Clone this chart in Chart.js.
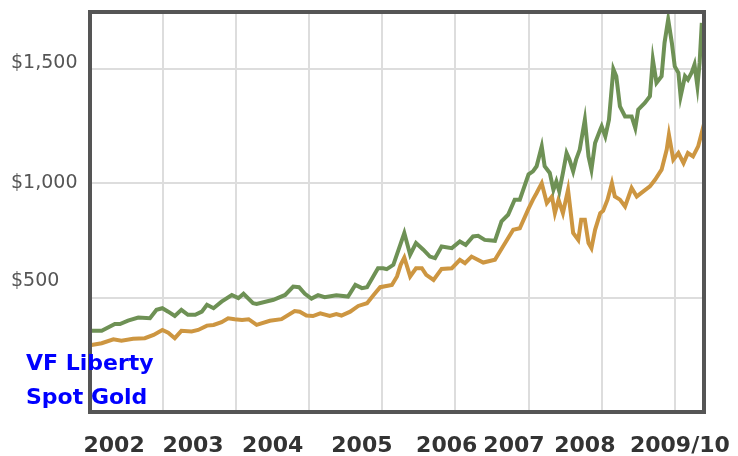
<!DOCTYPE html>
<html>
<head>
<meta charset="utf-8">
<script src="https://cdn.jsdelivr.net/npm/chart.js@4/dist/chart.umd.min.js"></script>
<style>
  body { margin: 0; background: #fff; }
  #wrap { width: 738px; height: 456px; }
</style>
</head>
<body>
<div id="wrap"><canvas id="grafica"></canvas></div>
<script>
const seriesNames = ["VF Liberty", "Spot Gold"];
const yearLabels = ["2002", "2003", "2004", "2005", "2006", "2007", "2008", "2009/10"];
const priceLabels = ["$500", "$1,000", "$1,500"];

const libertyYears = [2002.02, 2002.16, 2002.34, 2002.41, 2002.52, 2002.66, 2002.82, 2002.91, 2002.99,
  2003.07, 2003.16, 2003.25, 2003.34, 2003.44, 2003.53, 2003.60, 2003.69, 2003.80, 2003.94,
  2004.03, 2004.10, 2004.23, 2004.28, 2004.51, 2004.67, 2004.78, 2004.86, 2004.94,
  2005.03, 2005.12, 2005.21, 2005.37, 2005.53, 2005.63, 2005.72, 2005.79, 2005.94,
  2006.01, 2006.06, 2006.15, 2006.30, 2006.38, 2006.46, 2006.56, 2006.65, 2006.72, 2006.81, 2006.95,
  2007.06, 2007.14, 2007.24, 2007.31, 2007.40, 2007.54, 2007.63, 2007.72, 2007.81, 2007.88,
  2008.00, 2008.06, 2008.11, 2008.18, 2008.22, 2008.29, 2008.34, 2008.38, 2008.42, 2008.47,
  2008.52, 2008.56, 2008.61, 2008.65, 2008.70, 2008.77, 2008.82, 2008.86, 2008.91, 2008.98,
  2009.00, 2009.05, 2009.10, 2009.16, 2009.20, 2009.25, 2009.32, 2009.41, 2009.46, 2009.50,
  2009.59, 2009.66, 2009.70, 2009.75, 2009.82, 2009.86, 2009.91, 2009.96,
  2010.00, 2010.05, 2010.08, 2010.14, 2010.18, 2010.23, 2010.27, 2010.31, 2010.34, 2010.37];
const libertyValues = [355, 355, 385, 385, 400, 413, 410, 447, 454,
  439, 420, 447, 425, 425, 439, 469, 454, 483, 512,
  498, 517, 476, 473, 491, 512, 549, 546, 517,
  496, 511, 502, 511, 505, 556, 542, 546, 629,
  629, 625, 644, 783, 688, 739, 710, 680, 673, 724, 717,
  746, 731, 768, 771, 753, 749, 834, 863, 929, 929,
  1040, 1053, 1075, 1162, 1075, 1046, 972, 1009, 965, 1046,
  1133, 1104, 1053, 1104, 1148, 1279, 1118, 1060, 1177, 1235,
  1250, 1206, 1279, 1500, 1469, 1337, 1293, 1293, 1242, 1323,
  1352, 1381, 1542, 1440, 1469, 1615, 1717, 1615,
  1512, 1484, 1381, 1469, 1454, 1484, 1520, 1425, 1527, 1702];

const goldYears = [2002.02, 2002.16, 2002.32, 2002.43, 2002.59, 2002.75, 2002.87, 2002.99,
  2003.07, 2003.16, 2003.25, 2003.39, 2003.48, 2003.60, 2003.69, 2003.80, 2003.89, 2003.98,
  2004.08, 2004.17, 2004.28, 2004.46, 2004.62, 2004.80, 2004.87, 2004.96,
  2005.05, 2005.15, 2005.28, 2005.37, 2005.44, 2005.56, 2005.67, 2005.79, 2005.88, 2005.97,
  2006.13, 2006.20, 2006.25, 2006.30, 2006.38, 2006.46, 2006.54, 2006.60, 2006.70, 2006.81, 2006.95,
  2007.06, 2007.13, 2007.22, 2007.38, 2007.54, 2007.65, 2007.79, 2007.88,
  2008.00, 2008.06, 2008.11, 2008.18, 2008.25, 2008.32, 2008.36, 2008.41, 2008.47, 2008.54,
  2008.61, 2008.68, 2008.72, 2008.77, 2008.82, 2008.86, 2008.91, 2008.98,
  2009.02, 2009.08, 2009.14, 2009.18, 2009.25, 2009.32, 2009.41, 2009.48, 2009.57, 2009.66,
  2009.73, 2009.82, 2009.89, 2009.92, 2009.98,
  2010.05, 2010.12, 2010.18, 2010.25, 2010.32, 2010.38, 2010.39];
const goldValues = [293, 301, 318, 312, 320, 323, 337, 359,
  347, 323, 355, 352, 359, 378, 381, 393, 410, 406,
  403, 406, 381, 399, 406, 442, 439, 422,
  420, 432, 420, 428, 422, 439, 464, 476, 512, 546,
  556, 593, 644, 676, 593, 629, 629, 600, 578, 626, 629,
  666, 651, 680, 654, 666, 724, 797, 804,
  890, 929, 958, 1001, 914, 943, 870, 929, 870, 972,
  783, 753, 841, 841, 739, 717, 797, 870,
  880, 929, 1001, 943, 929, 899, 980, 943, 965, 987,
  1016, 1060, 1148, 1213, 1104,
  1133, 1089, 1133, 1118, 1162, 1235, 1191];

function pares(xs, ys) {
  return xs.map((x, i) => ({ x: x, y: ys[i] }));
}

const marco = {
  id: "marco",
  afterDatasetsDraw(chart) {
    const a = chart.chartArea;
    const ctx = chart.ctx;
    ctx.save();
    ctx.strokeStyle = "#555555";
    ctx.lineWidth = 4;
    ctx.strokeRect(a.left, a.top, a.right - a.left, a.bottom - a.top);
    ctx.restore();
  },
  afterDraw(chart) {
    const ctx = chart.ctx;
    ctx.save();
    ctx.fillStyle = "#0000ff";
    ctx.font = "bold 22px 'DejaVu Sans'";
    ctx.textAlign = "left";
    ctx.textBaseline = "alphabetic";
    ctx.fillText(seriesNames[0], 26, 370);
    ctx.fillText(seriesNames[1], 26, 404);
    ctx.restore();
  }
};

const labelPos = [2002.33, 2003.41, 2004.50, 2005.72, 2006.88, 2007.80, 2008.77, 2010.07];
const priceLabelPos = [574, 1001, 1526];

function sinPadding(s) {
  s.paddingLeft = 0;
  s.paddingRight = 0;
  s.paddingTop = 0;
  s.paddingBottom = 0;
}

new Chart(document.getElementById("grafica"), {
  type: "line",
  data: {
    datasets: [{
      label: seriesNames[0],
      data: pares(libertyYears, libertyValues),
      borderColor: "#6e9155",
      borderWidth: 4,
      pointRadius: 0,
      tension: 0
    }, {
      label: seriesNames[1],
      data: pares(goldYears, goldValues),
      borderColor: "#cd9641",
      borderWidth: 4,
      pointRadius: 0,
      tension: 0
    }]
  },
  options: {
    responsive: true,
    maintainAspectRatio: false,
    animation: false,
    layout: { padding: { left: 11, top: 12, right: 34, bottom: 0 } },
    plugins: { legend: { display: false }, tooltip: { enabled: false } },
    scales: {
      x: {
        type: "linear",
        min: 2002,
        max: 2010.4,
        position: "bottom",
        afterBuildTicks: s => { s.ticks = [2003, 2004, 2005, 2006, 2007, 2008, 2009, 2010].map(v => ({ value: v })); },
        afterFit: s => { s.height = 0; sinPadding(s); },
        grid: { color: "#dddddd", lineWidth: 2, drawTicks: false },
        border: { display: false },
        ticks: { display: false }
      },
      xEtiquetas: {
        type: "linear",
        min: 2002,
        max: 2010.4,
        position: "bottom",
        afterBuildTicks: s => { s.ticks = labelPos.map(v => ({ value: v })); },
        afterFit: s => { s.height = 44; sinPadding(s); },
        grid: { display: false, drawTicks: false },
        border: { display: false },
        ticks: {
          autoSkip: false,
          maxRotation: 0,
          minRotation: 0,
          padding: 21,
          color: "#333333",
          font: { family: "'DejaVu Sans'", size: 22, weight: "bold" },
          callback: (v, i) => yearLabels[i]
        }
      },
      y: {
        min: 0,
        max: 1750,
        afterBuildTicks: s => { s.ticks = [500, 1000, 1500].map(v => ({ value: v })); },
        afterFit: s => { s.width = 0; sinPadding(s); },
        grid: { color: "#dddddd", lineWidth: 2, drawTicks: false },
        border: { display: false },
        ticks: { display: false }
      },
      yEtiquetas: {
        min: 0,
        max: 1750,
        position: "left",
        afterBuildTicks: s => { s.ticks = priceLabelPos.map(v => ({ value: v })); },
        afterFit: s => { s.width = 79; sinPadding(s); },
        grid: { display: false, drawTicks: false },
        border: { display: false },
        ticks: {
          crossAlign: "far",
          color: "#555555",
          font: { family: "'DejaVu Sans'", size: 19 },
          callback: (v, i) => priceLabels[i]
        }
      }
    }
  },
  plugins: [marco]
});
</script>
</body>
</html>
